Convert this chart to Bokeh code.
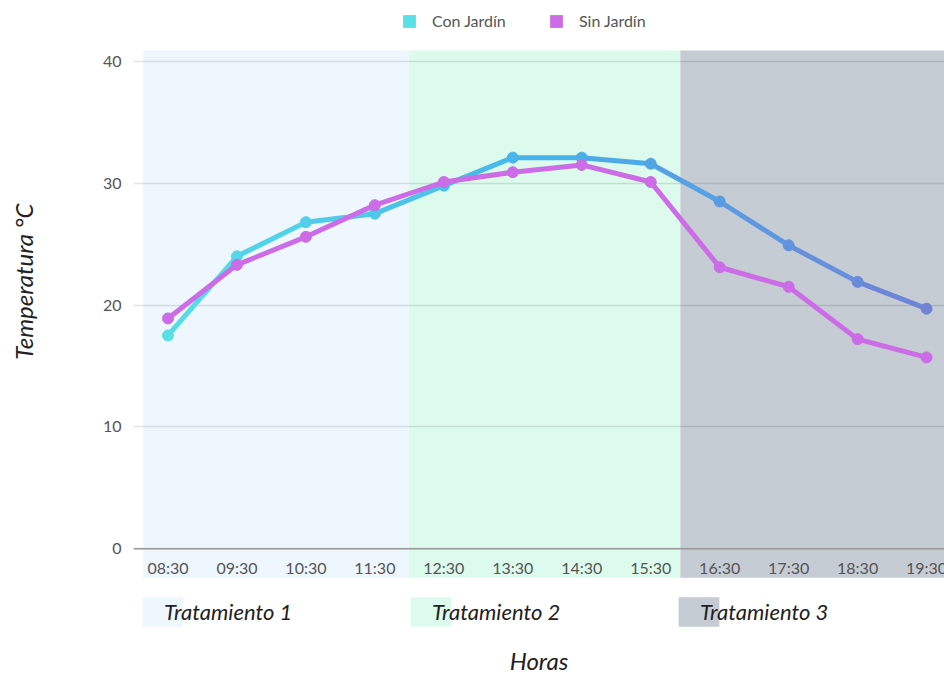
from bokeh.plotting import figure
from bokeh.models import (Range1d, FixedTicker, Legend, LegendItem, ColumnDataSource,
                          Span, Title)
from bokeh.core.properties import value
from bokeh.embed import file_html
from bokeh.resources import INLINE

# ---------------- data ----------------
hours = ["08:30", "09:30", "10:30", "11:30", "12:30", "13:30",
         "14:30", "15:30", "16:30", "17:30", "18:30", "19:30"]
con_jardin = [17.5, 24.0, 26.8, 27.5, 29.8, 32.1, 32.1, 31.6, 28.5, 24.9, 21.9, 19.7]
sin_jardin = [18.9, 23.3, 25.6, 28.2, 30.1, 30.9, 31.5, 30.1, 23.1, 21.5, 17.2, 15.7]
y_ticks = [0, 10, 20, 30, 40]
series_names = ["Con Jardín", "Sin Jardín"]
treatments = ["Tratamiento 1", "Tratamiento 2", "Tratamiento 3"]
treatment_start = [-0.36, 3.49, 7.43]
treatment_end = [3.49, 7.43, 12.0]
band_bottom, band_top = -2.38, 40.9

# ---------------- styles ----------------
FONT = "Lato"
treatment_colors = ["#eef6fe", "#dcfbec", "#c5ccd4"]
SIN_COLOR = "#cc6ce6"
CON_STOPS = [(0.0, (0x58, 0xe0, 0xe6)), (0.5, (0x45, 0xb2, 0xeb)), (1.0, (0x72, 0x82, 0xd6))]


def grad(t):
    for (t0, c0), (t1, c1) in zip(CON_STOPS[:-1], CON_STOPS[1:]):
        if t <= t1:
            f = (t - t0) / (t1 - t0)
            return "#%02x%02x%02x" % tuple(int(round(a + (b - a) * f)) for a, b in zip(c0, c1))
    return "#%02x%02x%02x" % CON_STOPS[-1][1]


n = len(hours)
xs = list(range(n))

# frame spans page y 0..642 ; 12.2 px per degree, 0 at y=549
PXU = 12.2
FRAME_BOTTOM = 642
y_start = -(FRAME_BOTTOM - 549) / PXU
y_end = 40 + 61 / PXU

p = figure(width=944, height=677, output_backend="svg", toolbar_location=None,
           x_range=Range1d(-0.5, 11.26), y_range=Range1d(y_start, y_end),
           min_border_left=133, min_border_right=0, min_border_top=0,
           min_border_bottom=677 - FRAME_BOTTOM,
           outline_line_color=None, background_fill_color="white",
           border_fill_color="white")
p.title.visible = False

# treatment bands
band_src = ColumnDataSource(dict(left=treatment_start, right=treatment_end,
                                 color=treatment_colors, name=treatments))
bands = p.quad(left="left", right="right", bottom=band_bottom, top=band_top,
               fill_color="color", line_color=None, source=band_src, level="image")

# grid
p.xgrid.visible = False
p.yaxis.ticker = FixedTicker(ticks=y_ticks)
p.ygrid.grid_line_color = "black"
p.ygrid.grid_line_alpha = 0.11
p.ygrid.grid_line_width = 1.5
p.add_layout(Span(location=y_ticks[0], dimension="width", line_color="#9a9a9a",
                  line_width=1.5))

# Con Jardin: gradient segments
seg_colors = [grad((i + 0.5) / (n - 1)) for i in range(n - 1)]
pt_colors = [grad(i / (n - 1)) for i in range(n)]
seg_src = ColumnDataSource(dict(x0=xs[:-1], x1=xs[1:], y0=con_jardin[:-1], y1=con_jardin[1:],
                                c=seg_colors))
p.segment(x0="x0", y0="y0", x1="x1", y1="y1", line_color="c", line_width=5,
          line_cap="round", source=seg_src)
con_src = ColumnDataSource(dict(x=xs, y=con_jardin, c=pt_colors))
p.scatter(x="x", y="y", size=11, fill_color="c", line_color="c", source=con_src)

# Sin Jardin
sin_src = ColumnDataSource(dict(x=xs, y=sin_jardin))
p.line(x="x", y="y", line_color=SIN_COLOR, line_width=5, line_join="round", source=sin_src)
p.scatter(x="x", y="y", size=11, fill_color=SIN_COLOR, line_color=SIN_COLOR, source=sin_src)

# x tick labels (inside the band area, as in reference)
lab_src = ColumnDataSource(dict(x=xs, t=hours))
p.text(x="x", y=y_ticks[0], text="t", source=lab_src, y_offset=19, text_align="center",
       text_baseline="middle", text_font=value(FONT), text_font_size="16px",
       text_color="#555555")

# y axis (blank axis label used as spacer before the title)
p.yaxis.axis_line_color = None
p.yaxis.major_tick_line_color = None
p.yaxis.minor_tick_line_color = None
p.yaxis.major_tick_out = 0
p.yaxis.major_tick_in = 0
p.yaxis.major_label_standoff = 12
p.yaxis.major_label_text_font = FONT
p.yaxis.major_label_text_font_size = "16px"
p.yaxis.major_label_text_color = "#555555"
p.yaxis.axis_label = " "
p.yaxis.axis_label_text_font_size = "2px"
p.yaxis.axis_label_standoff = 56

ytitle = Title(text="Temperatura °C", align="right", offset=203, vertical_align="middle",
               standoff=0, text_font=FONT, text_font_style="italic",
               text_font_size="24px", text_color="#222222")
p.add_layout(ytitle, "left")

# x axis: title only
p.xaxis.ticker = FixedTicker(ticks=[])
p.xaxis.axis_line_color = None
p.xaxis.major_tick_line_color = None
p.xaxis.minor_tick_line_color = None
p.xaxis.major_tick_out = 0
p.xaxis.major_tick_in = 0
p.xaxis.major_label_standoff = 0
p.xaxis.axis_label = "Horas"
p.xaxis.axis_label_text_font = FONT
p.xaxis.axis_label_text_font_style = "italic"
p.xaxis.axis_label_text_font_size = "24px"
p.xaxis.axis_label_text_color = "#222222"
p.xaxis.axis_label_standoff = 4

# top legend (series) - square icons from hidden quads
icon_con = p.quad(left="left", right="right", bottom=band_bottom, top=band_top,
                  fill_color=pt_colors[0], line_color=None, source=band_src, visible=False)
icon_sin = p.quad(left="left", right="right", bottom=band_bottom, top=band_top,
                  fill_color=SIN_COLOR, line_color=None, source=band_src, visible=False)
leg_top = Legend(items=[LegendItem(label=series_names[0], renderers=[icon_con], index=0),
                        LegendItem(label=series_names[1], renderers=[icon_sin], index=0)],
                 orientation="horizontal", location=(268, 611),
                 glyph_width=16, glyph_height=16, label_height=16, label_standoff=15,
                 label_width=80, spacing=36, padding=0, margin=0,
                 border_line_color=None, background_fill_alpha=0,
                 label_text_font=FONT, label_text_font_size="16px",
                 label_text_color="#555555")
p.add_layout(leg_top, "center")

# bottom legend (treatments): swatches first, then labels drawn over them
leg_swatch = Legend(items=[LegendItem(label="", renderers=[bands], index=i)
                           for i in range(len(treatments))],
                    orientation="horizontal", location=(4, 11),
                    glyph_width=51, glyph_height=37, label_height=37, label_standoff=0,
                    label_width=0, spacing=217, padding=0, margin=0,
                    border_line_color=None, background_fill_alpha=0)
p.add_layout(leg_swatch, "center")

blank = p.quad(left="left", right="right", bottom=band_bottom, top=band_top,
               fill_alpha=0, line_alpha=0, source=band_src, visible=False)
leg_text = Legend(items=[LegendItem(label=treatments[i], renderers=[blank], index=i)
                         for i in range(len(treatments))],
                  orientation="horizontal", location=(30, 11),
                  glyph_width=1, glyph_height=37, label_height=37, label_standoff=0,
                  label_width=130, spacing=137, padding=0, margin=0,
                  border_line_color=None, background_fill_alpha=0,
                  label_text_font=FONT, label_text_font_style="italic",
                  label_text_font_size="22px", label_text_color="#222222")
p.add_layout(leg_text, "center")

open("out.html", "w").write(file_html(p, INLINE))
